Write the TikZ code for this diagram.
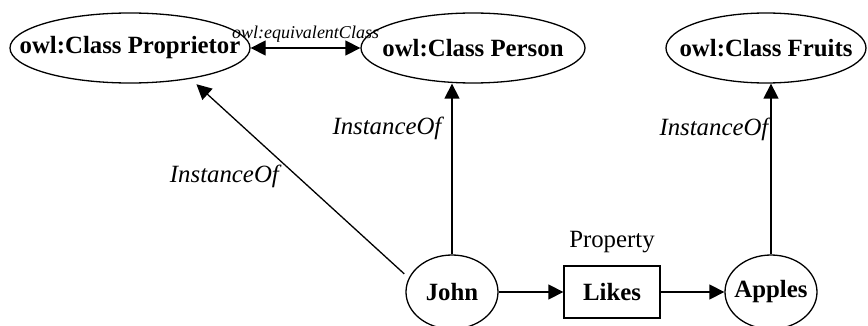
\documentclass[tikz,border=0pt]{standalone}
\usepackage{fontspec}
\setmainfont{Liberation Serif}
\usetikzlibrary{shapes.geometric,arrows.meta,positioning}
% text that may run past the outline of its node
\newcommand{\wide}[1]{\makebox[0pt]{#1}}

\begin{document}
\begin{tikzpicture}[x=0.5pt, y=-0.5pt, line width=0.65pt,
    clsnode/.style={ellipse, draw, inner sep=0pt, minimum height=35pt, minimum width=#1,
      font=\fontsize{12.4}{14}\selectfont\bfseries},
    indnode/.style={ellipse, draw, inner sep=0pt, minimum width=46pt, minimum height=37pt,
      font=\fontsize{12.4}{14}\selectfont\bfseries},
    relbox/.style={rectangle, draw, inner sep=0pt, minimum width=48pt, minimum height=26pt,
      font=\fontsize{12.4}{14}\selectfont\bfseries},
    tip/.tip={Triangle[length=7.5pt, width=7.5pt]},
    arr/.style={-tip},
    edgelbl/.style={inner sep=0pt, font=\fontsize{12.4}{14}\selectfont\itshape}]
    \useasboundingbox (0,0) rectangle (868,326);

    % Classes
    \node[clsnode=120pt] (proprietor) at (130,48) {\wide{owl:Class Proprietor}};
    \node[clsnode=112pt] (person) at (473,48) {\wide{owl:Class Person}};
    \node[clsnode=100pt] (fruits) at (766,48) {\wide{owl:Class Fruits}};

    % Individuals and the property
    \node[indnode] (john) at (452,292) {\wide{John}};
    \node[relbox] (likes) at (612,292) {Likes};
    \node[indnode] (apples) at (771,292) {\wide{Apples}};
    \node[above=6pt of likes, inner sep=0pt, font=\fontsize{12.4}{14}\selectfont] (proplbl) {Property};

    % Connections
    \draw[tip-tip] (proprietor) -- node[above=2.5pt, inner sep=0pt, font=\fontsize{9}{10}\selectfont\itshape] {owl:equivalentClass} (person);
    \draw[arr, shorten <=3pt, shorten >=4pt] (john.162) -- node[edgelbl, pos=0.51, left=9pt] {InstanceOf} (proprietor.-27);
    \draw[arr] (john.north) -- node[edgelbl, pos=0.74, left=5pt] {InstanceOf} (john.north |- person.south);
    \draw[arr] (apples.north) -- node[edgelbl, pos=0.73, left=1pt] {InstanceOf} (apples.north |- fruits.south);
    \draw[arr] (john) -- (likes);
    \draw[arr] (likes) -- (apples);
\end{tikzpicture}
\end{document}
